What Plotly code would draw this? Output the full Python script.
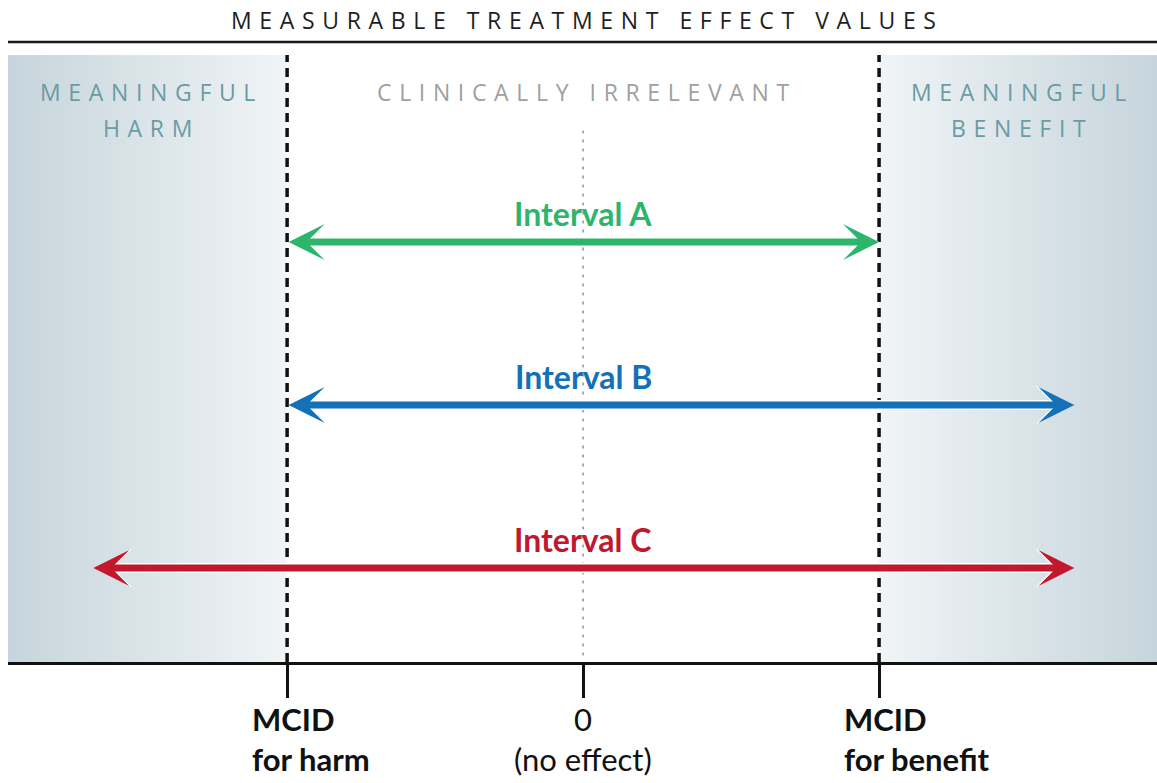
import numpy as np
import plotly.graph_objects as go

# ---------------- data ----------------
intervals = ["Interval A", "Interval B", "Interval C"]
lower = [-1.0, -1.0, -1.66]
upper = [1.0, 1.66, 1.66]
rows = [3, 2, 1]
interval_colors = ["#2db56b", "#1370b9", "#c1182e"]

mcid_vals = [-1.0, 0.0, 1.0]
mcid_top = ["MCID", "0", "MCID"]
mcid_bottom = ["for harm", "(no effect)", "for benefit"]

region_labels = [["MEANINGFUL", "HARM"], ["CLINICALLY IRRELEVANT"], ["MEANINGFUL", "BENEFIT"]]
title_text = "MEASURABLE TREATMENT EFFECT VALUES"

# ---------------- layout constants ----------------
X_MIN, X_MAX = -1.943, 1.939
Y_MIN, Y_MAX = 0.423, 4.485
REGION_TOP = 4.147
TOP_RULE = 4.227
TITLE_Y = 4.362
REGION_LABEL_Y = 3.920

DARK = "rgb(198,213,220)"
LIGHT = "rgb(240,244,246)"

LSP = "\u2004"
WSP = "\u2004\u2005\u2004"


def spaced(s):
    return WSP.join(LSP.join(w) for w in s.split(" "))


fig = go.Figure()

# gradient regions
n = 150
for x0, x1, rev in [(X_MIN, mcid_vals[0], False), (mcid_vals[2], X_MAX, True)]:
    edges = np.linspace(x0, x1, n + 1)
    z = np.linspace(0, 1, n)
    if rev:
        z = z[::-1]
    fig.add_trace(go.Heatmap(
        x=edges, y=[Y_MIN, REGION_TOP], z=[z],
        colorscale=[[0, DARK], [1, LIGHT]], zmin=0, zmax=1,
        showscale=False, hoverinfo="skip"))

# MCID dashed lines
for v in (mcid_vals[0], mcid_vals[2]):
    fig.add_shape(type="line", xref="x", yref="y", x0=v, x1=v, y0=Y_MIN, y1=REGION_TOP,
                  line=dict(color="#111111", width=3.5, dash="9px,6px"))
# no-effect dotted line
fig.add_shape(type="line", xref="x", yref="y", x0=mcid_vals[1], x1=mcid_vals[1],
              y0=Y_MIN + 0.04, y1=3.72,
              line=dict(color="#9a9a9a", width=1.6, dash="3px,6px"))

# top rule
fig.add_shape(type="line", xref="paper", yref="y", x0=0, x1=1, y0=TOP_RULE, y1=TOP_RULE,
              line=dict(color="#1a1a1a", width=2.5))

# title
fig.add_annotation(x=0, y=TITLE_Y, xref="x", yref="y", text=spaced(title_text),
                   showarrow=False, font=dict(family="Open Sans", size=23, color="#1e1e1e"))

# region labels
region_x = [(X_MIN + mcid_vals[0]) / 2, mcid_vals[1], (mcid_vals[2] + X_MAX) / 2]
region_colors = ["#6b9ba5", "#a0a0a0", "#6b9ba5"]
for lines, rx, rc in zip(region_labels, region_x, region_colors):
    for i, ln in enumerate(lines):
        fig.add_annotation(x=rx, y=REGION_LABEL_Y, xref="x", yref="y", text=spaced(ln),
                           showarrow=False, yanchor="middle", yshift=-36 * i,
                           font=dict(family="Open Sans", size=23, color=rc))

# interval arrows
for name, lo, hi, r, c in zip(intervals, lower, upper, rows, interval_colors):
    for col, w, s in [("white", 10, 0.66), (c, 7, 0.86)]:
        fig.add_annotation(x=hi, y=r, ax=lo, ay=r, xref="x", yref="y", axref="x", ayref="y",
                           text="", showarrow=True, arrowhead=3, startarrowhead=3,
                           arrowside="end+start", arrowsize=s, startarrowsize=s,
                           arrowwidth=w, arrowcolor=col)
    fig.add_annotation(x=mcid_vals[1], y=r, xref="x", yref="y", text="<b>" + name + "</b>",
                       showarrow=False, yanchor="bottom", yshift=7,
                       font=dict(family="Lato", size=32, color=c))

# tick labels
for v, t, b in zip(mcid_vals, mcid_top, mcid_bottom):
    if v == 0:
        txt = t + "<br>" + b
        fig.add_annotation(x=v, y=0, xref="x", yref="paper", text=txt, showarrow=False,
                           xanchor="center", yanchor="top", align="center", yshift=-36,
                           font=dict(family="Lato", size=31, color="#111111"))
    else:
        txt = "<b>" + t + "</b><br><b>" + b + "</b>"
        fig.add_annotation(x=v, y=0, xref="x", yref="paper", text=txt, showarrow=False,
                           xanchor="left", yanchor="top", align="left", xshift=-37, yshift=-36,
                           font=dict(family="Lato", size=31, color="#111111"))

fig.update_xaxes(range=[X_MIN, X_MAX], showgrid=False, zeroline=False,
                 showline=True, linecolor="#111111", linewidth=3,
                 ticks="outside", tickvals=mcid_vals, ticklen=33, tickwidth=3,
                 tickcolor="#111111", showticklabels=False, fixedrange=True)
fig.update_yaxes(range=[Y_MIN, Y_MAX], visible=False, fixedrange=True)

fig.update_layout(width=1157, height=783, margin=dict(l=8, r=0, t=0, b=121),
                  paper_bgcolor="white", plot_bgcolor="white", showlegend=False)

# remove the default 8px page margin so the figure fills the window exactly
fig.write_html("out.html",
               config={"displayModeBar": False},
               post_script="document.body.style.margin='0';document.body.style.overflow='hidden';")
